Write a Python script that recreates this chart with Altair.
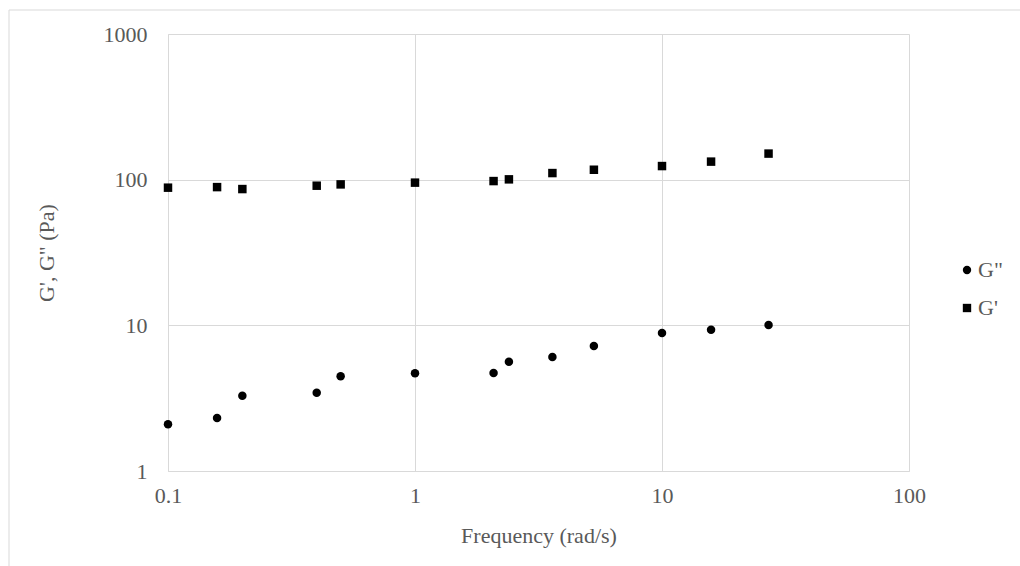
import altair as alt
import pandas as pd

freq = [0.1, 0.158, 0.2, 0.4, 0.5, 1.0, 2.08, 2.4, 3.6, 5.3, 10, 15.8, 27]
g_storage = [88.1, 88.9, 86.2, 90.9, 92.8, 95.4, 97.8, 100.5, 111, 117, 124, 133, 151]
g_loss = [2.09, 2.31, 3.29, 3.45, 4.47, 4.68, 4.71, 5.63, 6.06, 7.21, 8.85, 9.33, 10.05]
series_names = ['G"', "G'"]
x_ticks = [0.1, 1, 10, 100]
y_ticks = [1, 10, 100, 1000]

rows = []
for f, v in zip(freq, g_loss):
    rows.append({"freq": f, "val": v, "series": series_names[0]})
for f, v in zip(freq, g_storage):
    rows.append({"freq": f, "val": v, "series": series_names[1]})
df = pd.DataFrame(rows)

FONT = "Liberation Serif"
GREY = "#595959"
GRID = "#d9d9d9"
W, H = 741, 437

points = alt.Chart(df).mark_point(filled=True, opacity=1, color="black", size=72).encode(
    x=alt.X("freq:Q",
            scale=alt.Scale(type="log", domain=[0.1, 100], nice=False),
            axis=alt.Axis(values=x_ticks, format="~g", title="Frequency (rad/s)",
                          titleX=W / 2, titleY=71, titleBaseline="alphabetic",
                          labelPadding=14, labelFlush=False)),
    y=alt.Y("val:Q",
            scale=alt.Scale(type="log", domain=[1, 1000], nice=False),
            axis=alt.Axis(values=y_ticks, format="~g", title="G', G\" (Pa)",
                          titleX=-115, titleY=H / 2, titleAngle=-90,
                          titleBaseline="alphabetic", titleAlign="center",
                          labelPadding=21, labelFlush=False)),
    shape=alt.Shape("series:N",
                    scale=alt.Scale(domain=series_names, range=["circle", "square"]),
                    legend=alt.Legend(title=None, orient="none", legendX=788, legendY=225,
                                      symbolFillColor="black", symbolStrokeColor="black",
                                      symbolSize=70, labelOffset=0, rowPadding=16,
                                      padding=0)),
)

border_df = pd.DataFrame({"k": [0]})
left_border = alt.Chart(border_df).mark_rule(color=GRID, strokeWidth=1).encode(
    x=alt.value(-159), y=alt.value(-24), y2=alt.value(H + 140))
top_border = alt.Chart(border_df).mark_rule(color=GRID, strokeWidth=1).encode(
    x=alt.value(-159), x2=alt.value(W + 200), y=alt.value(-24))

chart = alt.layer(left_border, top_border, points).properties(
    width=W, height=H,
    background="white",
    autosize=alt.AutoSizeParams(type="none"),
    padding={"left": 168, "top": 34, "right": 1020 - 168 - W, "bottom": 566 - 34 - H},
).configure_view(stroke=None).configure_axis(
    grid=True, gridColor=GRID, domain=True, domainColor=GRID, ticks=False,
    labelFont=FONT, labelFontSize=22, labelColor=GREY,
    titleFont=FONT, titleFontSize=22, titleColor=GREY, titleFontWeight="normal",
).configure_legend(
    labelFont=FONT, labelFontSize=22, labelColor=GREY,
)

chart.save("out.html", embed_options={"renderer": "svg", "actions": False})
